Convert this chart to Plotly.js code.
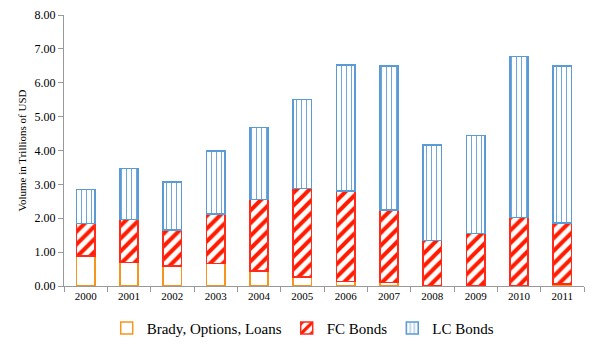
<!DOCTYPE html>
<html><head><meta charset="utf-8">
<script src="https://cdn.plot.ly/plotly-3.0.1.min.js"></script>
<style>body{margin:0;background:#fff}#c{width:600px;height:351px}</style>
</head><body><div id="c"></div>
<script>
var years = ["2000","2001","2002","2003","2004","2005","2006","2007","2008","2009","2010","2011"];
var brady = [0.89,0.69,0.59,0.66,0.44,0.26,0.14,0.10,0.01,0.01,0.01,0.06];
var fcBonds = [0.96,1.27,1.06,1.47,2.12,2.62,2.67,2.14,1.34,1.54,2.01,1.80];
var lcBonds = [1.00,1.51,1.42,1.85,2.12,2.63,3.72,4.26,2.81,2.89,4.75,4.64];
var font = "Liberation Serif, DejaVu Serif, serif";
var traces = [
  {type:"bar", name:"Brady, Options, Loans", x:years, y:brady,
   marker:{color:"#ffffff", line:{color:"#f7941d", width:1.5}}},
  {type:"bar", name:"FC Bonds", x:years, y:fcBonds,
   marker:{color:"#ffffff", line:{color:"#ff2a1a", width:1.5},
     pattern:{shape:"/", fgcolor:"#ff1a00", bgcolor:"#ffffff", size:9, solidity:0.45}}},
  {type:"bar", name:"LC Bonds", x:years, y:lcBonds,
   marker:{color:"#ffffff", line:{color:"#5b9bd5", width:1.5},
     pattern:{shape:"|", fgcolor:"#6fa6dc", bgcolor:"#ffffff", size:5, solidity:0.2}}}
];
var layout = {
  width:600, height:351, barmode:"stack", bargap:0.58,
  margin:{l:64, r:16, t:15, b:65, autoexpand:false},
  paper_bgcolor:"#fff", plot_bgcolor:"#fff",
  font:{family:font, color:"#000", size:11},
  showlegend:true,
  legend:{orientation:"h", x:0.46, xanchor:"center", y:-0.095, yanchor:"top",
    font:{size:15, family:font}, traceorder:"normal", itemwidth:30},
  xaxis:{type:"category", showline:true, linecolor:"#999", linewidth:1,
    ticks:"outside", tickson:"boundaries", ticklen:5, tickcolor:"#999",
    showgrid:false, tickfont:{size:11}},
  yaxis:{range:[0,8], dtick:1, tickformat:".2f", showline:true, linecolor:"#999",
    ticks:"outside", ticklen:5, tickcolor:"#999", showgrid:false, zeroline:false,
    tickfont:{size:12},
    title:{text:"Volume in Trillions of USD", font:{size:11}, standoff:5}}
};
Plotly.newPlot("c", traces, layout, {staticPlot:true});
</script></body></html>
